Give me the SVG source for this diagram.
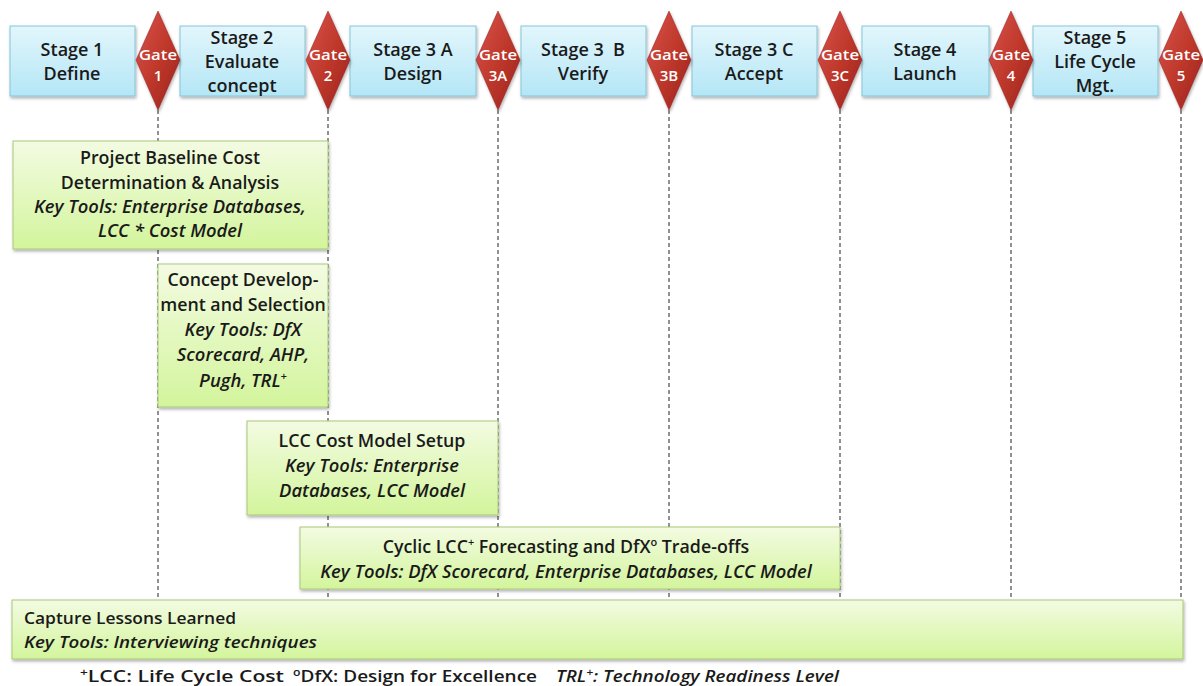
<svg xmlns="http://www.w3.org/2000/svg" width="1203" height="686" viewBox="0 0 1203 686">
<defs>
<linearGradient id="gStage" x1="0" y1="0" x2="0" y2="1">
<stop offset="0" stop-color="#e2f6fc"/>
<stop offset="1" stop-color="#b4e6f6"/>
</linearGradient>
<linearGradient id="gGate" x1="0" y1="0" x2="1" y2="1">
<stop offset="0" stop-color="#d9534f"/>
<stop offset="0.5" stop-color="#c0392b"/>
<stop offset="1" stop-color="#9a2020"/>
</linearGradient>
<linearGradient id="gGreen" x1="0" y1="0" x2="0" y2="1">
<stop offset="0" stop-color="#f3fbe2"/>
<stop offset="1" stop-color="#d3f59c"/>
</linearGradient>
<filter id="sh" x="-5%" y="-5%" width="110%" height="120%">
<feDropShadow dx="1" dy="2" stdDeviation="1.5" flood-color="#000" flood-opacity="0.3"/>
</filter>
<style>
.stage{fill:url(#gStage);stroke:#86c5da;stroke-width:1;filter:url(#sh)}
.gate{fill:url(#gGate);stroke:#8e1e1e;stroke-width:0.5;filter:url(#sh)}
.box{fill:url(#gGreen);stroke:#a9c77a;stroke-width:1;filter:url(#sh)}
.st{font-family:"Open Sans",Lato,sans-serif;font-weight:600;font-size:18px;fill:#1a1a1a;text-anchor:middle}
.gt{font-family:"Open Sans",Lato,sans-serif;font-weight:600;font-size:15px;fill:#fff;text-anchor:middle}
.bt{font-family:"Open Sans",Lato,sans-serif;font-weight:600;font-size:17.8px;fill:#1a1a1a;text-anchor:middle}
.it{font-style:italic;font-size:18.4px}
.lt{font-family:"Open Sans",Lato,sans-serif;font-weight:600;font-size:17px;fill:#1a1a1a}
.dash{stroke:#222;stroke-width:1;stroke-dasharray:4,3;fill:none}
</style>
</defs>
<rect width="1203" height="686" fill="#fff"/>
<g id="connectors">
<line class="dash" x1="158" y1="110" x2="158" y2="600"/>
<line class="dash" x1="328" y1="110" x2="328" y2="600"/>
<line class="dash" x1="498" y1="110" x2="498" y2="600"/>
<line class="dash" x1="669" y1="110" x2="669" y2="600"/>
<line class="dash" x1="840" y1="110" x2="840" y2="600"/>
<line class="dash" x1="1011" y1="110" x2="1011" y2="600"/>
<line class="dash" x1="1181" y1="110" x2="1181" y2="600"/>
</g>
<g id="stage1"><rect class="stage" x="10" y="26" width="125" height="70"/><text class="st" x="72" y="56">Stage 1</text><text class="st" x="72" y="80">Define</text></g>
<g id="stage2"><rect class="stage" x="180" y="26" width="125" height="70"/><text class="st" x="242" y="44">Stage 2</text><text class="st" x="242" y="68">Evaluate</text><text class="st" x="242" y="92">concept</text></g>
<g id="stage3a"><rect class="stage" x="350" y="26" width="126" height="70"/><text class="st" x="413" y="56">Stage 3 A</text><text class="st" x="413" y="80">Design</text></g>
<g id="stage3b"><rect class="stage" x="521" y="26" width="125" height="70"/><text class="st" x="583" y="56" xml:space="preserve">Stage 3  B</text><text class="st" x="583" y="80">Verify</text></g>
<g id="stage3c"><rect class="stage" x="692" y="26" width="125" height="70"/><text class="st" x="754" y="56">Stage 3 C</text><text class="st" x="754" y="80">Accept</text></g>
<g id="stage4"><rect class="stage" x="862" y="26" width="127" height="70"/><text class="st" x="925" y="56">Stage 4</text><text class="st" x="925" y="80">Launch</text></g>
<g id="stage5"><rect class="stage" x="1033" y="26" width="125" height="70"/><text class="st" x="1095" y="44">Stage 5</text><text class="st" x="1095" y="68">Life Cycle</text><text class="st" x="1095" y="92">Mgt.</text></g>
<g id="gate1"><polygon class="gate" points="158,11 180,60 158,110 136,60"/><text class="gt" x="158" y="60" textLength="38" lengthAdjust="spacingAndGlyphs">Gate</text><text class="gt" x="158" y="81">1</text></g>
<g id="gate2"><polygon class="gate" points="328,11 350,60 328,110 306,60"/><text class="gt" x="328" y="60" textLength="38" lengthAdjust="spacingAndGlyphs">Gate</text><text class="gt" x="328" y="81">2</text></g>
<g id="gate3a"><polygon class="gate" points="498,11 520,60 498,110 476,60"/><text class="gt" x="498" y="60" textLength="38" lengthAdjust="spacingAndGlyphs">Gate</text><text class="gt" x="498" y="81">3A</text></g>
<g id="gate3b"><polygon class="gate" points="669,11 691,60 669,110 647,60"/><text class="gt" x="669" y="60" textLength="38" lengthAdjust="spacingAndGlyphs">Gate</text><text class="gt" x="669" y="81">3B</text></g>
<g id="gate3c"><polygon class="gate" points="840,11 862,60 840,110 818,60"/><text class="gt" x="840" y="60" textLength="38" lengthAdjust="spacingAndGlyphs">Gate</text><text class="gt" x="840" y="81">3C</text></g>
<g id="gate4"><polygon class="gate" points="1011,11 1033,60 1011,110 989,60"/><text class="gt" x="1011" y="60" textLength="38" lengthAdjust="spacingAndGlyphs">Gate</text><text class="gt" x="1011" y="81">4</text></g>
<g id="gate5"><polygon class="gate" points="1181,11 1203,60 1181,110 1159,60"/><text class="gt" x="1181" y="60" textLength="38" lengthAdjust="spacingAndGlyphs">Gate</text><text class="gt" x="1181" y="81">5</text></g>
<g id="baseline"><rect class="box" x="13" y="141" width="315" height="108"/>
<text class="bt" x="170" y="164">Project Baseline Cost</text>
<text class="bt" x="170" y="189">Determination &amp; Analysis</text>
<text class="bt it" x="170" y="213">Key Tools: Enterprise Databases,</text>
<text class="bt it" x="170" y="237">LCC * Cost Model</text></g>
<g id="concept"><rect class="box" x="158" y="264" width="170" height="143"/>
<text class="bt" x="243" y="286">Concept Develop-</text>
<text class="bt" x="243" y="311">ment and Selection</text>
<text class="bt it" x="243" y="336">Key Tools: DfX</text>
<text class="bt it" x="243" y="361">Scorecard, AHP,</text>
<text class="bt it" x="243" y="387">Pugh, TRL<tspan font-size="11" dy="-7">+</tspan></text></g>
<g id="lccsetup"><rect class="box" x="247" y="421" width="251" height="94"/>
<text class="bt" x="372" y="447">LCC Cost Model Setup</text>
<text class="bt it" x="372" y="472">Key Tools: Enterprise</text>
<text class="bt it" x="372" y="497">Databases, LCC Model</text></g>
<g id="cyclic"><rect class="box" x="300" y="527" width="540" height="62"/>
<text class="bt" x="566" y="553">Cyclic LCC<tspan font-size="11" dy="-7">+</tspan><tspan dy="7"> Forecasting and DfX</tspan><tspan font-size="11" dy="-7">o</tspan><tspan dy="7"> Trade-offs</tspan></text>
<text class="bt it" x="566" y="578">Key Tools: DfX Scorecard, Enterprise Databases, LCC Model</text></g>
<g id="lessons"><rect class="box" x="12" y="600" width="1171" height="59"/>
<text class="lt" x="24" y="624" textLength="212" lengthAdjust="spacingAndGlyphs">Capture Lessons Learned</text>
<text class="lt it" x="24" y="648" textLength="293" lengthAdjust="spacingAndGlyphs">Key Tools: Interviewing techniques</text></g>
<g id="footnote">
<text class="lt" x="80" y="682" font-size="16" textLength="204" lengthAdjust="spacingAndGlyphs"><tspan font-size="11" dy="-6">+</tspan><tspan dy="6">LCC: Life Cycle Cost</tspan></text>
<text class="lt" x="293" y="682" font-size="16" textLength="244" lengthAdjust="spacingAndGlyphs"><tspan font-size="11" dy="-6">o</tspan><tspan dy="6">DfX: Design for Excellence</tspan></text>
<text class="lt it" x="556" y="682" font-size="16" textLength="283" lengthAdjust="spacingAndGlyphs">TRL<tspan font-size="11" dy="-6">+</tspan><tspan dy="6">: Technology  Readiness Level</tspan></text>
</g>
</svg>
